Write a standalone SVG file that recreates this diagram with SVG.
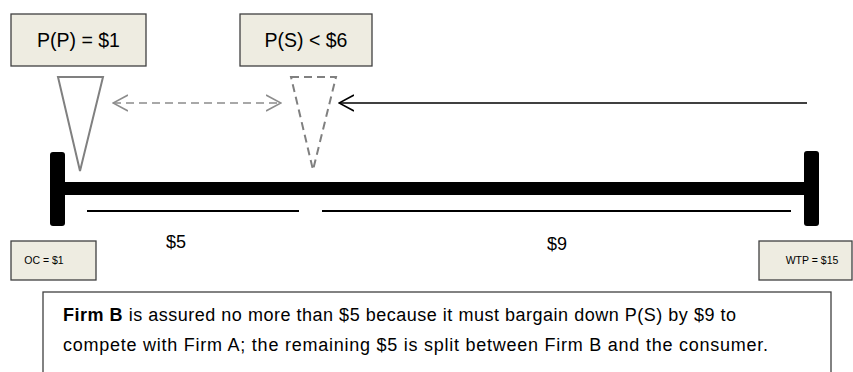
<svg xmlns="http://www.w3.org/2000/svg" width="853" height="372" viewBox="0 0 853 372">
<style>
  .lbl { fill: #eeece1; stroke: #404040; stroke-width: 1.3; }
  .txt { font-family: "Liberation Sans", Arial, sans-serif; fill: #000; }
  .tri { fill: none; stroke: #808080; stroke-width: 2; stroke-linejoin: miter; }
</style>
<defs>
  <marker id="chevGray" viewBox="0 0 16 18" refX="15" refY="9" markerWidth="16" markerHeight="18" markerUnits="userSpaceOnUse" orient="auto-start-reverse">
    <path d="M0,1 L15,9 L0,17" fill="none" stroke="#8c8c8c" stroke-width="1.6"/>
  </marker>
  <marker id="chevBlack" viewBox="0 0 16 18" refX="15" refY="9" markerWidth="16" markerHeight="18" markerUnits="userSpaceOnUse" orient="auto">
    <path d="M0,1 L15,9 L0,17" fill="none" stroke="#000" stroke-width="1.6"/>
  </marker>
</defs>
<rect width="853" height="372" fill="#fff"/>

<g id="scale">
  <line x1="58" y1="188.5" x2="812" y2="188.5" stroke="#000" stroke-width="13"/>
  <rect x="50" y="152" width="15" height="74" rx="3" fill="#000"/>
  <rect x="804" y="151" width="15" height="75" rx="3" fill="#000"/>
  <line x1="87" y1="211" x2="299" y2="211" stroke="#000" stroke-width="1.8"/>
  <line x1="322" y1="211" x2="791" y2="211" stroke="#000" stroke-width="1.8"/>
  <text class="txt" x="166" y="248" font-size="18">$5</text>
  <text class="txt" x="547" y="250" font-size="18">$9</text>
</g>

<g id="node-pp">
  <rect class="lbl" x="11" y="14" width="135" height="52"/>
  <text class="txt" x="78.5" y="47" font-size="19.5" text-anchor="middle">P(P) = $1</text>
</g>

<g id="node-ps">
  <rect class="lbl" x="240" y="14" width="132" height="52"/>
  <text class="txt" x="306" y="47" font-size="19.5" text-anchor="middle">P(S) &lt; $6</text>
</g>

<g id="pointer-pp">
  <polygon class="tri" points="58,77 103,77 80,171"/>
</g>

<g id="pointer-ps">
  <polygon class="tri" points="291,77 336,77 313,170" stroke="#8c8c8c" stroke-dasharray="8,5"/>
</g>

<g id="node-oc">
  <rect class="lbl" x="11" y="241" width="85" height="39"/>
  <text class="txt" x="44" y="264" font-size="10.5" text-anchor="middle">OC = $1</text>
</g>

<g id="node-wtp">
  <rect class="lbl" x="759" y="241" width="93" height="39"/>
  <text class="txt" x="812" y="264" font-size="10.5" text-anchor="middle">WTP = $15</text>
</g>

<g id="connectors">
  <line x1="113" y1="103" x2="281" y2="103" stroke="#8c8c8c" stroke-width="1.6" stroke-dasharray="8,5" marker-start="url(#chevGray)" marker-end="url(#chevGray)"/>
  <line x1="807" y1="103" x2="339" y2="103" stroke="#000" stroke-width="1.6" marker-end="url(#chevBlack)"/>
</g>

<g id="note">
  <rect x="43" y="292" width="788" height="90" fill="#fff" stroke="#404040" stroke-width="1.3"/>
  <text class="txt" x="63" y="321" font-size="18" textLength="673" lengthAdjust="spacing"><tspan font-weight="bold">Firm B</tspan> is assured no more than $5 because it must bargain down P(S) by $9 to</text>
  <text class="txt" x="63" y="351" font-size="18" textLength="705" lengthAdjust="spacing">compete with Firm A; the remaining $5 is split between Firm B and the consumer.</text>
</g>
</svg>
